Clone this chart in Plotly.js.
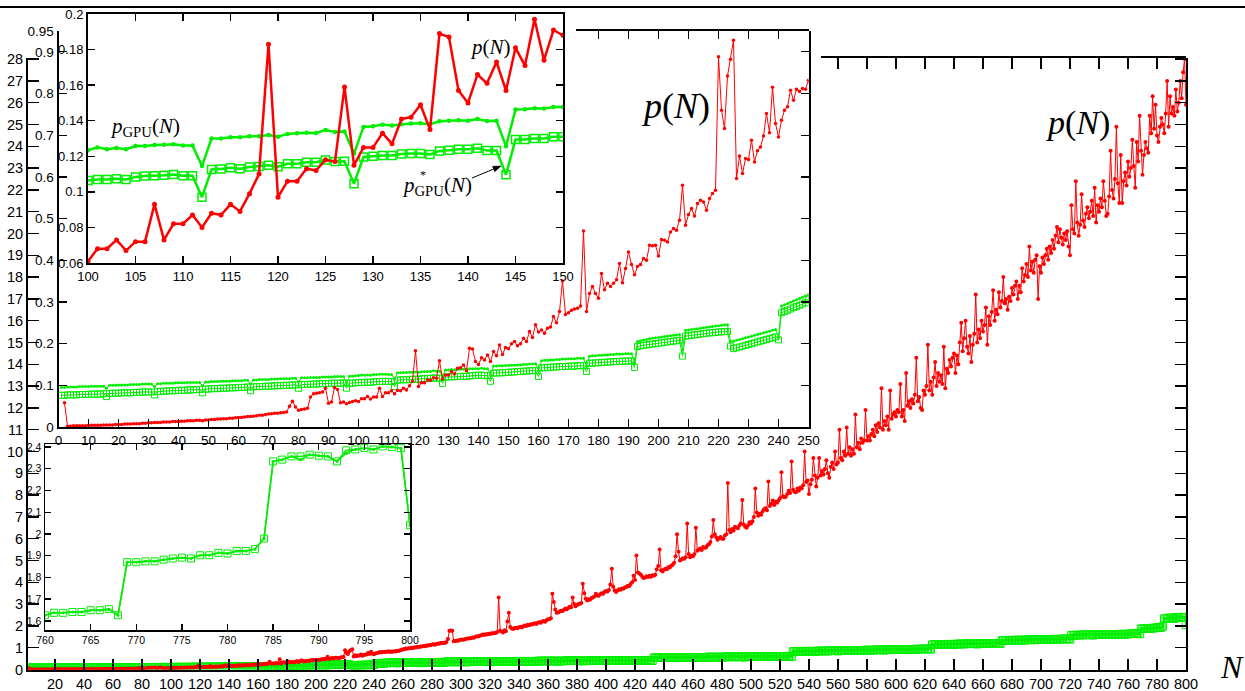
<!DOCTYPE html>
<html><head><meta charset="utf-8">
<script src="https://cdn.plot.ly/plotly-3.0.1.min.js"></script>
<style>html,body{margin:0;padding:0;background:#fff}#c{width:1245px;height:691px}</style>
</head><body><div id="c"></div>
<script>
// p(N), N = 2..800
const pN = [
0.058,0.002,0.002,0.003,0.003,0.003,0.003,0.003,0.004,
0.004,0.004,0.004,0.004,0.005,0.005,0.005,0.005,0.006,0.006,
0.006,0.007,0.007,0.007,0.008,0.008,0.008,0.009,0.009,0.010,
0.010,0.011,0.011,0.011,0.012,0.012,0.012,0.013,0.013,0.013,
0.014,0.014,0.015,0.015,0.015,0.016,0.016,0.015,0.017,0.017,
0.018,0.018,0.019,0.019,0.020,0.020,0.021,0.021,0.022,0.023,
0.023,0.024,0.025,0.025,0.026,0.027,0.028,0.028,0.030,0.031,
0.032,0.033,0.033,0.034,0.035,0.036,0.050,0.062,0.048,0.040,
0.042,0.043,0.045,0.072,0.080,0.081,0.082,0.084,0.093,0.057,
0.060,0.095,0.090,0.058,0.060,0.056,0.059,0.061,0.063,0.061,
0.068,0.068,0.073,0.067,0.072,0.072,0.093,0.073,0.082,0.082,
0.087,0.080,0.088,0.087,0.093,0.089,0.099,0.110,0.183,0.097,
0.106,0.106,0.113,0.112,0.118,0.117,0.159,0.115,0.125,0.125,
0.133,0.127,0.141,0.142,0.149,0.135,0.189,0.187,0.157,0.150,
0.166,0.161,0.173,0.157,0.181,0.171,0.197,0.174,0.191,0.188,
0.200,0.205,0.195,0.200,0.213,0.205,0.229,0.215,0.245,0.228,
0.233,0.225,0.237,0.240,0.265,0.250,0.277,0.350,0.270,0.274,
0.280,0.283,0.285,0.290,0.470,0.277,0.320,0.337,0.320,0.309,
0.368,0.329,0.345,0.337,0.345,0.353,0.392,0.346,0.380,0.420,
0.390,0.365,0.385,0.390,0.404,0.400,0.436,0.435,0.436,0.410,
0.450,0.448,0.444,0.468,0.476,0.472,0.496,0.580,0.484,0.510,
0.524,0.506,0.536,0.544,0.540,0.520,0.548,0.560,0.568,0.888,
0.760,0.716,0.842,0.882,0.928,0.596,0.650,0.608,0.644,0.642,
0.688,0.636,0.663,0.672,0.698,0.752,0.706,0.815,0.728,0.696,
0.736,0.760,0.768,0.808,0.784,0.810,0.805,0.812,0.810,0.832,
0.80,0.82,0.81,0.84,0.83,0.86,0.85,0.88,0.90,0.93,
0.94,0.96,0.95,0.98,0.97,1.00,0.99,1.02,1.01,1.04,
1.03,1.06,1.05,1.08,1.07,1.10,1.09,1.12,1.11,1.15,
1.16,1.14,1.17,1.19,1.18,1.21,1.20,1.23,1.22,1.26,
1.40,1.78,1.79,1.78,1.30,1.31,1.33,1.32,1.35,1.36,
1.38,1.37,1.40,1.41,1.43,1.42,1.45,1.47,1.46,1.50,
1.52,1.51,1.55,1.57,1.60,1.58,1.62,1.61,1.64,1.63,
1.66,1.65,1.68,1.67,1.72,3.30,1.78,1.74,1.70,1.80,
1.76,2.20,2.60,1.95,1.88,1.86,1.90,1.92,1.89,1.94,
1.96,1.93,1.98,2.02,2.00,2.05,2.03,2.08,2.06,2.10,
2.12,2.09,2.15,2.17,2.14,2.20,2.22,2.19,2.26,2.30,
2.30,2.35,3.47,3.10,2.75,2.60,2.62,2.66,2.70,2.68,
2.74,2.80,2.76,2.82,2.88,2.85,3.30,3.00,2.90,2.96,
3.00,3.02,3.05,3.93,3.50,3.25,3.16,3.22,3.20,3.28,
3.30,3.35,3.47,3.40,3.38,3.45,3.50,3.48,3.55,3.60,
3.58,3.65,3.90,4.62,3.80,3.62,3.55,3.62,3.68,3.66,
3.72,3.70,3.76,3.78,3.84,3.82,3.92,4.00,4.30,4.10,
5.23,4.45,4.40,4.35,4.25,4.20,4.22,4.28,4.24,4.30,
4.26,4.32,4.30,4.35,4.60,4.75,5.50,4.55,4.50,4.58,
4.62,4.60,4.70,4.68,4.76,4.80,4.90,5.20,6.20,5.40,
5.00,5.05,5.10,5.08,5.15,6.70,5.30,5.15,5.22,5.20,
5.30,6.50,5.45,5.50,5.55,5.48,5.62,5.58,5.60,5.70,
5.75,5.85,6.10,6.86,6.20,6.07,5.95,6.02,6.08,6.00,
6.00,6.15,6.20,8.56,6.40,6.30,6.45,6.38,6.55,6.50,
6.48,6.60,6.70,7.78,6.65,6.55,6.50,6.62,6.75,6.70,
6.80,7.00,8.30,7.20,7.05,7.15,7.10,7.25,7.35,7.40,
7.30,8.62,7.50,7.60,7.75,7.55,7.70,7.65,7.75,7.85,
9.05,7.95,7.90,7.92,8.05,8.20,8.10,9.54,8.25,8.15,
8.13,8.30,8.20,8.35,8.30,8.45,10.0,8.60,8.67,8.05,
8.50,8.70,9.70,8.90,8.40,8.80,9.70,8.90,9.10,8.95,
9.20,9.60,9.00,8.80,9.30,9.50,9.20,10.0,9.40,9.50,
11.0,9.70,9.60,10.0,9.80,11.1,9.90,10.2,9.80,10.1,
9.90,11.7,10.2,10.4,10.1,10.6,10.4,10.5,11.9,10.5,
10.7,10.5,10.8,11.0,10.7,11.2,10.9,11.3,11.1,12.9,
11.0,11.4,11.2,11.6,11.0,12.8,11.5,11.7,11.8,11.6,
11.9,11.8,13.1,11.6,11.9,11.4,13.6,12.1,12.3,12.0,
12.4,12.2,12.6,14.3,12.3,12.5,12.0,11.9,12.8,12.6,
13.0,14.9,12.8,13.2,12.6,13.4,14.1,13.0,13.6,13.2,
13.5,13.1,14.8,12.9,13.8,13.6,14.2,13.9,14.3,14.5,
13.6,14.4,14.0,15.0,15.9,14.6,15.2,16.0,14.8,14.5,
15.3,14.1,14.9,15.4,17.2,15.0,15.6,15.2,16.0,15.5,
15.8,16.6,14.9,16.2,15.8,16.4,17.4,16.0,16.5,16.3,
17.3,16.6,16.9,18.0,16.8,17.0,16.5,17.1,16.9,17.5,
17.2,17.6,17.8,17.0,17.6,17.3,18.4,17.8,18.1,18.6,
18.0,19.4,18.3,18.7,18.2,18.8,19.0,17.0,18.5,18.2,
18.9,18.6,19.0,19.3,18.8,19.4,19.1,19.7,19.3,19.9,
20.3,19.6,20.2,19.8,19.5,20.0,19.7,20.1,19.4,19.0,
21.3,20.2,20.0,22.4,20.5,19.9,20.4,21.8,20.6,20.3,
20.9,21.2,20.7,21.0,21.5,20.8,22.1,20.5,21.3,21.0,
21.6,21.2,22.4,21.5,20.8,20.9,21.7,23.8,22.0,21.6,
22.5,24.9,22.3,21.4,23.6,21.4,22.4,22.8,22.2,23.3,
22.6,23.0,24.3,23.1,22.1,24.2,23.3,25.4,23.8,22.7,
23.6,24.2,23.9,23.7,25.4,24.6,26.3,24.8,25.9,24.5,
24.2,24.9,25.3,25.0,24.6,25.5,27.0,24.9,26.3,25.5,
25.8,25.4,26.6,25.6,26.0,27.0,26.2,27.4,28.0,25.9];

// p_GPU(N), N = 1..800
const pGPU = [
0.095,0.095,0.096,0.096,0.096,0.096,0.097,0.097,0.097,0.097,
0.098,0.098,0.098,0.098,0.098,0.093,0.100,0.100,0.100,0.101,
0.101,0.101,0.101,0.102,0.102,0.102,0.102,0.103,0.103,0.103,
0.103,0.097,0.104,0.104,0.105,0.105,0.105,0.105,0.106,0.106,
0.106,0.106,0.107,0.107,0.107,0.107,0.107,0.099,0.108,0.108,
0.109,0.109,0.109,0.110,0.110,0.110,0.110,0.111,0.111,0.111,
0.111,0.112,0.112,0.103,0.113,0.113,0.114,0.114,0.114,0.114,
0.115,0.115,0.115,0.116,0.116,0.116,0.116,0.117,0.117,0.108,
0.118,0.118,0.118,0.119,0.119,0.119,0.119,0.120,0.120,0.120,
0.120,0.121,0.121,0.121,0.121,0.106,0.122,0.122,0.123,0.1234,
0.125,0.124,0.1247,0.124,0.1258,0.1258,0.1264,0.1265,0.1267,0.126,
0.126,0.1145,0.130,0.130,0.1307,0.1307,0.1312,0.1312,0.132,0.131,
0.1326,0.133,0.1333,0.1331,0.1348,0.1337,0.134,0.1215,0.1365,0.1369,
0.1378,0.1373,0.138,0.1384,0.1386,0.138,0.1397,0.140,0.1402,0.140,
0.141,0.1398,0.140,0.1256,0.1463,0.1465,0.147,0.1468,0.1477,0.1477,
0.148,0.148,0.149,0.149,0.150,0.150,0.151,0.151,0.152,0.135,
0.159,0.160,0.160,0.161,0.161,0.162,0.162,0.163,0.163,0.164,
0.164,0.164,0.165,0.165,0.165,0.146,0.170,0.171,0.171,0.172,
0.172,0.173,0.173,0.174,0.174,0.175,0.175,0.175,0.176,0.176,
0.176,0.155,0.205,0.207,0.209,0.210,0.212,0.213,0.214,0.215,
0.216,0.217,0.218,0.219,0.220,0.221,0.222,0.185,0.232,0.233,
0.234,0.235,0.236,0.237,0.238,0.239,0.240,0.241,0.242,0.243,
0.244,0.245,0.245,0.205,0.206,0.208,0.210,0.212,0.214,0.216,
0.218,0.220,0.222,0.224,0.226,0.228,0.230,0.232,0.234,0.215,
0.290,0.293,0.296,0.299,0.302,0.305,0.308,0.311,0.314,0.318,
0.32,0.32,0.32,0.32,0.32,0.31,0.32,0.32,0.32,0.32,
0.32,0.32,0.33,0.33,0.33,0.33,0.33,0.33,0.33,0.33,
0.33,0.32,0.33,0.33,0.33,0.33,0.33,0.34,0.34,0.34,
0.34,0.34,0.34,0.34,0.34,0.34,0.34,0.33,0.36,0.36,
0.36,0.36,0.36,0.36,0.36,0.36,0.36,0.36,0.36,0.36,
0.36,0.36,0.37,0.35,0.37,0.37,0.37,0.37,0.37,0.37,
0.37,0.37,0.37,0.37,0.37,0.37,0.37,0.37,0.37,0.36,
0.37,0.37,0.38,0.38,0.38,0.38,0.38,0.38,0.38,0.38,
0.38,0.38,0.38,0.38,0.38,0.37,0.39,0.39,0.39,0.39,
0.39,0.39,0.39,0.39,0.39,0.39,0.39,0.39,0.39,0.39,
0.39,0.38,0.40,0.40,0.40,0.40,0.40,0.40,0.40,0.40,
0.40,0.40,0.40,0.40,0.40,0.40,0.40,0.39,0.40,0.40,
0.40,0.41,0.41,0.41,0.41,0.41,0.41,0.41,0.41,0.41,
0.41,0.41,0.41,0.40,0.41,0.41,0.41,0.41,0.41,0.41,
0.42,0.42,0.42,0.42,0.42,0.42,0.42,0.42,0.42,0.41,
0.42,0.42,0.42,0.42,0.42,0.42,0.42,0.42,0.42,0.42,
0.43,0.43,0.43,0.43,0.43,0.42,0.43,0.43,0.43,0.43,
0.43,0.43,0.43,0.43,0.43,0.43,0.43,0.43,0.43,0.43,
0.43,0.42,0.55,0.55,0.55,0.55,0.55,0.55,0.55,0.55,
0.55,0.56,0.56,0.56,0.56,0.56,0.56,0.55,0.56,0.56,
0.56,0.56,0.56,0.56,0.56,0.57,0.57,0.57,0.57,0.57,
0.57,0.57,0.57,0.56,0.57,0.57,0.57,0.57,0.57,0.58,
0.58,0.58,0.58,0.58,0.58,0.58,0.58,0.58,0.58,0.57,
0.58,0.59,0.59,0.59,0.59,0.59,0.59,0.59,0.59,0.59,
0.59,0.59,0.59,0.59,0.59,0.58,0.60,0.60,0.60,0.60,
0.60,0.60,0.60,0.60,0.60,0.60,0.60,0.60,0.60,0.60,
0.61,0.60,0.61,0.61,0.61,0.61,0.61,0.61,0.61,0.61,
0.61,0.61,0.61,0.61,0.62,0.62,0.62,0.60,0.84,0.84,
0.84,0.84,0.84,0.84,0.84,0.85,0.85,0.85,0.85,0.85,
0.85,0.85,0.85,0.84,0.85,0.86,0.86,0.86,0.86,0.86,
0.86,0.86,0.86,0.86,0.87,0.87,0.87,0.87,0.87,0.86,
0.87,0.87,0.88,0.88,0.88,0.88,0.88,0.88,0.88,0.88,
0.89,0.89,0.89,0.89,0.89,0.88,0.89,0.90,0.90,0.90,
0.90,0.90,0.90,0.90,0.90,0.91,0.91,0.91,0.91,0.91,
0.91,0.90,0.92,0.92,0.92,0.92,0.92,0.92,0.92,0.93,
0.93,0.93,0.93,0.93,0.93,0.93,0.93,0.92,0.94,0.94,
0.94,0.94,0.94,0.94,0.94,0.95,0.95,0.95,0.95,0.95,
0.95,0.96,0.96,0.94,1.15,1.15,1.15,1.15,1.16,1.16,
1.16,1.16,1.16,1.16,1.17,1.17,1.17,1.17,1.17,1.16,
1.17,1.18,1.18,1.18,1.18,1.18,1.18,1.18,1.19,1.19,
1.19,1.19,1.19,1.19,1.19,1.18,1.20,1.20,1.20,1.20,
1.20,1.20,1.20,1.21,1.21,1.21,1.21,1.21,1.21,1.21,
1.22,1.20,1.34,1.34,1.34,1.35,1.35,1.35,1.35,1.35,
1.35,1.36,1.36,1.36,1.36,1.36,1.36,1.35,1.37,1.37,
1.37,1.37,1.37,1.37,1.37,1.38,1.38,1.38,1.38,1.38,
1.38,1.39,1.39,1.39,1.39,1.38,1.39,1.40,1.40,1.40,
1.40,1.40,1.40,1.41,1.41,1.41,1.41,1.41,1.42,1.40,
1.58,1.58,1.58,1.59,1.59,1.59,1.59,1.59,1.60,1.60,
1.60,1.60,1.60,1.60,1.60,1.59,1.61,1.61,1.61,1.61,
1.61,1.61,1.61,1.62,1.62,1.62,1.62,1.62,1.62,1.62,
1.62,1.61,1.63,1.63,1.63,1.63,1.63,1.63,1.63,
1.626,1.637,1.637,1.641,1.641,1.649,1.649,1.654,1.626,
1.870,1.870,1.874,1.874,1.882,1.887,1.891,1.887,1.902,1.902,1.913,1.910,1.922,1.922,1.930,1.979,
2.334,2.342,2.357,2.342,2.365,2.360,2.357,2.334,2.372,2.389,2.395,2.389,2.403,2.400,2.395,2.040];

// p*_GPU(N), N = 1..800
const pGPUstar = [
0.076,0.076,0.077,0.077,0.077,0.077,0.078,0.078,0.078,0.078,
0.079,0.079,0.079,0.079,0.080,0.073,0.080,0.081,0.081,0.081,
0.082,0.082,0.082,0.082,0.083,0.083,0.083,0.084,0.084,0.084,
0.084,0.077,0.085,0.085,0.086,0.086,0.087,0.087,0.087,0.088,
0.088,0.088,0.089,0.089,0.089,0.090,0.090,0.082,0.091,0.091,
0.092,0.092,0.092,0.093,0.093,0.093,0.094,0.094,0.094,0.095,
0.095,0.095,0.096,0.087,0.096,0.097,0.097,0.097,0.098,0.098,
0.098,0.099,0.099,0.099,0.100,0.100,0.100,0.101,0.101,0.093,
0.102,0.102,0.102,0.103,0.103,0.103,0.104,0.104,0.104,0.104,
0.105,0.105,0.105,0.105,0.106,0.093,0.105,0.105,0.106,0.1064,
0.107,0.107,0.1074,0.107,0.1083,0.1089,0.109,0.1093,0.1098,0.109,
0.109,0.097,0.1126,0.1128,0.1136,0.113,0.114,0.1143,0.1149,0.1141,
0.1158,0.1158,0.1166,0.1166,0.1179,0.117,0.1172,0.1046,0.1196,0.120,
0.1205,0.1205,0.1213,0.1215,0.1215,0.121,0.123,0.1234,0.124,0.124,
0.1245,0.1232,0.1232,0.1096,0.1294,0.1294,0.130,0.130,0.131,0.131,
0.132,0.132,0.133,0.133,0.134,0.134,0.135,0.135,0.136,0.121,
0.142,0.142,0.143,0.143,0.144,0.144,0.145,0.145,0.145,0.146,
0.146,0.146,0.147,0.147,0.147,0.133,0.153,0.153,0.154,0.154,
0.155,0.155,0.156,0.156,0.157,0.157,0.157,0.158,0.158,0.158,
0.159,0.143,0.193,0.195,0.196,0.197,0.198,0.199,0.200,0.201,
0.202,0.203,0.204,0.205,0.206,0.207,0.208,0.170,0.218,0.219,
0.220,0.221,0.222,0.223,0.224,0.225,0.226,0.226,0.227,0.228,
0.228,0.229,0.229,0.194,0.188,0.190,0.192,0.194,0.196,0.198,
0.200,0.202,0.204,0.206,0.208,0.210,0.212,0.214,0.216,0.209,
0.274,0.277,0.280,0.283,0.286,0.289,0.292,0.295,0.298,0.305,
0.31,0.31,0.31,0.31,0.31,0.29,0.31,0.31,0.31,0.31,
0.31,0.31,0.32,0.32,0.32,0.32,0.32,0.32,0.32,0.32,
0.32,0.30,0.32,0.32,0.32,0.32,0.32,0.33,0.33,0.33,
0.33,0.33,0.33,0.33,0.33,0.33,0.33,0.31,0.35,0.35,
0.35,0.35,0.35,0.35,0.35,0.35,0.35,0.35,0.35,0.35,
0.35,0.35,0.36,0.33,0.36,0.36,0.36,0.36,0.36,0.36,
0.36,0.36,0.36,0.36,0.36,0.36,0.36,0.36,0.36,0.34,
0.36,0.36,0.37,0.37,0.37,0.37,0.37,0.37,0.37,0.37,
0.37,0.37,0.37,0.37,0.37,0.35,0.38,0.38,0.38,0.38,
0.38,0.38,0.38,0.38,0.38,0.38,0.38,0.38,0.38,0.38,
0.38,0.36,0.39,0.39,0.39,0.39,0.39,0.39,0.39,0.39,
0.39,0.39,0.39,0.39,0.39,0.39,0.39,0.37,0.39,0.39,
0.39,0.40,0.40,0.40,0.40,0.40,0.40,0.40,0.40,0.40,
0.40,0.40,0.40,0.38,0.40,0.40,0.40,0.40,0.40,0.40,
0.41,0.41,0.41,0.41,0.41,0.41,0.41,0.41,0.41,0.39,
0.41,0.41,0.41,0.41,0.41,0.41,0.41,0.41,0.41,0.41,
0.42,0.42,0.42,0.42,0.42,0.40,0.42,0.42,0.42,0.42,
0.42,0.42,0.42,0.42,0.42,0.42,0.42,0.42,0.42,0.42,
0.42,0.40,0.54,0.54,0.54,0.54,0.54,0.54,0.54,0.54,
0.54,0.55,0.55,0.55,0.55,0.55,0.55,0.53,0.55,0.55,
0.55,0.55,0.55,0.55,0.55,0.56,0.56,0.56,0.56,0.56,
0.56,0.56,0.56,0.54,0.56,0.56,0.56,0.56,0.56,0.57,
0.57,0.57,0.57,0.57,0.57,0.57,0.57,0.57,0.57,0.55,
0.57,0.58,0.58,0.58,0.58,0.58,0.58,0.58,0.58,0.58,
0.58,0.58,0.58,0.58,0.58,0.56,0.59,0.59,0.59,0.59,
0.59,0.59,0.59,0.59,0.59,0.59,0.59,0.59,0.59,0.59,
0.60,0.58,0.60,0.60,0.60,0.60,0.60,0.60,0.60,0.60,
0.60,0.60,0.60,0.60,0.61,0.61,0.61,0.58,0.83,0.83,
0.83,0.83,0.83,0.83,0.83,0.84,0.84,0.84,0.84,0.84,
0.84,0.84,0.84,0.82,0.84,0.85,0.85,0.85,0.85,0.85,
0.85,0.85,0.85,0.85,0.86,0.86,0.86,0.86,0.86,0.84,
0.86,0.86,0.87,0.87,0.87,0.87,0.87,0.87,0.87,0.87,
0.88,0.88,0.88,0.88,0.88,0.86,0.88,0.89,0.89,0.89,
0.89,0.89,0.89,0.89,0.89,0.90,0.90,0.90,0.90,0.90,
0.90,0.88,0.91,0.91,0.91,0.91,0.91,0.91,0.91,0.92,
0.92,0.92,0.92,0.92,0.92,0.92,0.92,0.90,0.93,0.93,
0.93,0.93,0.93,0.93,0.93,0.94,0.94,0.94,0.94,0.94,
0.94,0.95,0.95,0.92,1.14,1.14,1.14,1.14,1.15,1.15,
1.15,1.15,1.15,1.15,1.16,1.16,1.16,1.16,1.16,1.14,
1.16,1.17,1.17,1.17,1.17,1.17,1.17,1.17,1.18,1.18,
1.18,1.18,1.18,1.18,1.18,1.16,1.19,1.19,1.19,1.19,
1.19,1.19,1.19,1.20,1.20,1.20,1.20,1.20,1.20,1.20,
1.21,1.18,1.33,1.33,1.33,1.34,1.34,1.34,1.34,1.34,
1.34,1.35,1.35,1.35,1.35,1.35,1.35,1.33,1.36,1.36,
1.36,1.36,1.36,1.36,1.36,1.37,1.37,1.37,1.37,1.37,
1.37,1.38,1.38,1.38,1.38,1.36,1.38,1.39,1.39,1.39,
1.39,1.39,1.39,1.40,1.40,1.40,1.40,1.40,1.41,1.38,
1.57,1.57,1.57,1.58,1.58,1.58,1.58,1.58,1.59,1.59,
1.59,1.59,1.59,1.59,1.59,1.57,1.60,1.60,1.60,1.60,
1.60,1.60,1.60,1.61,1.61,1.61,1.61,1.61,1.61,1.61,
1.61,1.59,1.62,1.62,1.62,1.62,1.62,1.62,1.62,
1.626,1.637,1.637,1.641,1.641,1.649,1.649,1.654,1.626,
1.870,1.870,1.874,1.874,1.882,1.887,1.891,1.887,1.902,1.902,1.913,1.910,1.922,1.922,1.930,1.979,
2.334,2.342,2.357,2.357,2.365,2.360,2.357,2.334,2.385,2.389,2.395,2.389,2.403,2.400,2.395,2.040];

// tick values / labels
const mainXTicks = [20,40,60,80,100,120,140,160,180,200,220,240,260,280,300,320,340,360,380,400,420,440,460,480,500,520,540,560,580,600,620,640,660,680,700,720,740,760,780,800];
const mainTopTicks = [560,580,600,620,640,660,680,700,720,740,760,780,800];
const mainYTicks = [0,1,2,3,4,5,6,7,8,9,10,11,12,13,14,15,16,17,18,19,20,21,22,23,24,25,26,27,28];
const in2XTicks = [0,10,20,30,40,50,60,70,80,90,100,110,120,130,140,150,160,170,180,190,200,210,220,230,240,250];
const in2TopTicks = [180,190,200,210,220,230,240,250];
const in2YTicks = [0,0.1,0.2,0.3,0.4,0.5,0.6,0.7,0.8,0.9,0.95];
const in2YText = ['0','0.1','0.2','0.3','0.4','0.5','0.6','0.7','0.8','0.9','0.95'];
const in3XTicks = [100,105,110,115,120,125,130,135,140,145,150];
const in3YTicks = [0.06,0.08,0.1,0.12,0.14,0.16,0.18,0.2];
const in3YText = ['0.06','0.08','0.1','0.12','0.14','0.16','0.18','0.2'];
const in4XTicks = [760,765,770,775,780,785,790,795,800];
const in4YTicks = [1.6,1.7,1.8,1.9,2.0,2.1,2.2,2.3,2.4];
const in4YText = ['1.6','1.7','1.8','1.9','2','2.1','2.2','2.3','2.4'];

const Nall = []; for (let n = 1; n <= 800; n++) Nall.push(n);
const Nred = Nall.slice(1);

const W = 1245, H = 691;
const fx = p => p / W, fy = p => 1 - p / H;
const RED = '#ff0000', GREEN = '#00ee00';
const SANS = 'Liberation Sans, Arial, sans-serif';
const SERIF = 'Liberation Serif, Times New Roman, serif';

function tr(x, y, xa, ya, color, lw, sym, ms, mlw) {
  return {x: x, y: y, xaxis: xa, yaxis: ya, type: 'scatter', mode: 'lines+markers',
    line: {color: color, width: lw},
    marker: {symbol: sym, size: ms, color: color, line: {color: color, width: mlw}},
    hoverinfo: 'skip', showlegend: false};
}

const data = [
  tr(Nall, pGPU, 'x', 'y', GREEN, 1, 'circle', 3, 0),
  tr(Nall, pGPUstar, 'x', 'y', GREEN, 1, 'square-open', 7.5, 1),
  tr(Nred, pN, 'x', 'y', RED, 1, 'circle', 4, 0),
  tr(Nall, pGPU, 'x2', 'y2', GREEN, 1, 'circle', 3, 0),
  tr(Nall, pGPUstar, 'x2', 'y2', GREEN, 1, 'square-open', 6, 1),
  tr(Nred, pN, 'x2', 'y2', RED, 1, 'circle', 3.5, 0),
  tr(Nall, pGPU, 'x3', 'y3', GREEN, 2.5, 'circle', 4.5, 0),
  tr(Nall, pGPUstar, 'x3', 'y3', GREEN, 2.5, 'square-open', 8, 1.5),
  tr(Nred, pN, 'x3', 'y3', RED, 2.5, 'circle', 5, 0),
  tr(Nall, pGPU, 'x4', 'y4', GREEN, 1.5, 'circle', 3, 0),
  tr(Nall, pGPUstar, 'x4', 'y4', GREEN, 1.5, 'square-open', 7, 1),
  {x: [], y: [], xaxis: 'x5', yaxis: 'y', type: 'scatter', mode: 'lines', showlegend: false, hoverinfo: 'skip'},
  {x: [], y: [], xaxis: 'x6', yaxis: 'y2', type: 'scatter', mode: 'lines', showlegend: false, hoverinfo: 'skip'}
];

function ax(o) {
  return Object.assign({showgrid: false, zeroline: false, showline: true, linecolor: '#000', linewidth: 2,
    ticks: 'inside', tickcolor: '#000', tickwidth: 1.3, tickangle: 0, fixedrange: true,
    tickfont: {family: SANS, size: 14.5, color: '#000'}}, o);
}

// arrow pointing at the p*_GPU dip (pixel positions of the drawing)
const arTail = [472, 178], arTip = [501, 166];
const dxA = arTip[0] - arTail[0], dyA = arTip[1] - arTail[1];
const LA = Math.hypot(dxA, dyA), ux = dxA / LA, uy = dyA / LA;
const bx = arTip[0] - 8 * ux, by = arTip[1] - 8 * uy;
const p1 = [bx - 3 * uy, by + 3 * ux], p2 = [bx + 3 * uy, by - 3 * ux];
const arrowPath = 'M' + fx(arTip[0]) + ',' + fy(arTip[1]) + ' L' + fx(p1[0]) + ',' + fy(p1[1]) +
  ' L' + fx(p2[0]) + ',' + fy(p2[1]) + ' Z';

const layout = {
  width: W, height: H, autosize: false,
  margin: {l: 0, r: 0, t: 0, b: 0, pad: 0},
  paper_bgcolor: '#fff', plot_bgcolor: 'rgba(0,0,0,0)', showlegend: false,
  xaxis: ax({domain: [fx(28), fx(1186)], range: [1.4, 800], anchor: 'y', tickvals: mainXTicks, ticklen: 11}),
  yaxis: ax({domain: [fy(669.5), fy(58)], range: [0, 28.05], anchor: 'x', tickvals: mainYTicks, ticklen: 11, mirror: 'ticks'}),
  xaxis5: ax({domain: [fx(821), fx(1186)], range: [548.3, 800], anchor: 'y', side: 'top', tickvals: mainTopTicks, ticklen: 11, showticklabels: false}),
  xaxis2: ax({domain: [fx(58.5), fx(808.5)], range: [0, 250], anchor: 'y2', tickvals: in2XTicks, ticklen: 8,
    tickfont: {family: SANS, size: 13.5, color: '#000'}}),
  yaxis2: ax({domain: [fy(427), fy(31)], range: [0, 0.95], anchor: 'x2', tickvals: in2YTicks, ticktext: in2YText, ticklen: 8, mirror: 'ticks',
    tickfont: {family: SANS, size: 13.5, color: '#000'}}),
  xaxis6: ax({domain: [fx(576), fx(808.5)], range: [172.5, 250], anchor: 'y2', side: 'top', tickvals: in2TopTicks, ticklen: 8, showticklabels: false}),
  xaxis3: ax({domain: [fx(88), fx(563)], range: [100, 150], anchor: 'y3', tickvals: in3XTicks, ticklen: 7, mirror: 'ticks',
    tickfont: {family: SANS, size: 13, color: '#000'}}),
  yaxis3: ax({domain: [fy(263), fy(14)], range: [0.06, 0.2], anchor: 'x3', tickvals: in3YTicks, ticktext: in3YText, ticklen: 7, mirror: 'ticks',
    tickfont: {family: SANS, size: 13, color: '#000'}}),
  xaxis4: ax({domain: [fx(45), fx(410)], range: [760, 800], anchor: 'y4', tickvals: in4XTicks, ticklen: 6, mirror: 'ticks', linewidth: 1.5,
    tickfont: {family: SANS, size: 10.5, color: '#000'}}),
  yaxis4: ax({domain: [fy(630), fy(444)], range: [1.558, 2.414], anchor: 'x4', tickvals: in4YTicks, ticktext: in4YText, ticklen: 6, mirror: 'ticks', linewidth: 1.5,
    tickfont: {family: SANS, size: 10.5, color: '#000'}}),
  shapes: [
    {type: 'line', xref: 'paper', yref: 'paper', x0: 0, x1: 1, y0: fy(7), y1: fy(7), line: {color: '#000', width: 2}},
    {type: 'line', xref: 'paper', yref: 'paper', x0: fx(arTail[0]), y0: fy(arTail[1]), x1: fx(bx), y1: fy(by), line: {color: '#000', width: 1}},
    {type: 'path', xref: 'paper', yref: 'paper', path: arrowPath, fillcolor: '#000', line: {color: '#000', width: 0.5}}
  ],
  annotations: [
    {xref: 'paper', yref: 'paper', x: fx(490), y: fy(47), text: '<i>p</i>(<i>N</i>)', showarrow: false,
      font: {family: SERIF, size: 21, color: '#000'}, xanchor: 'center', yanchor: 'middle'},
    {xref: 'paper', yref: 'paper', x: fx(145), y: fy(127), text: '<i>p</i><sub>GPU</sub>(<i>N</i>)', showarrow: false,
      font: {family: SERIF, size: 21, color: '#000'}, xanchor: 'center', yanchor: 'middle'},
    {xref: 'paper', yref: 'paper', x: fx(437), y: fy(186), text: '<i>p</i><sub>GPU</sub>(<i>N</i>)', showarrow: false,
      font: {family: SERIF, size: 21, color: '#000'}, xanchor: 'center', yanchor: 'middle'},
    {xref: 'paper', yref: 'paper', x: fx(423), y: fy(175), text: '*', showarrow: false,
      font: {family: SERIF, size: 12, color: '#000'}, xanchor: 'center', yanchor: 'middle'},
    {xref: 'paper', yref: 'paper', x: fx(675), y: fy(106), text: '<i>p</i>(<i>N</i>)', showarrow: false,
      font: {family: SERIF, size: 36, color: '#000'}, xanchor: 'center', yanchor: 'middle'},
    {xref: 'paper', yref: 'paper', x: fx(1078), y: fy(123), text: '<i>p</i>(<i>N</i>)', showarrow: false,
      font: {family: SERIF, size: 34, color: '#000'}, xanchor: 'center', yanchor: 'middle'},
    {xref: 'paper', yref: 'paper', x: fx(1232), y: fy(667), text: '<i>N</i>', showarrow: false,
      font: {family: SERIF, size: 32, color: '#000'}, xanchor: 'center', yanchor: 'middle'}
  ]
};

Plotly.newPlot('c', data, layout, {staticPlot: true, displayModeBar: false});
</script>
</body></html>
